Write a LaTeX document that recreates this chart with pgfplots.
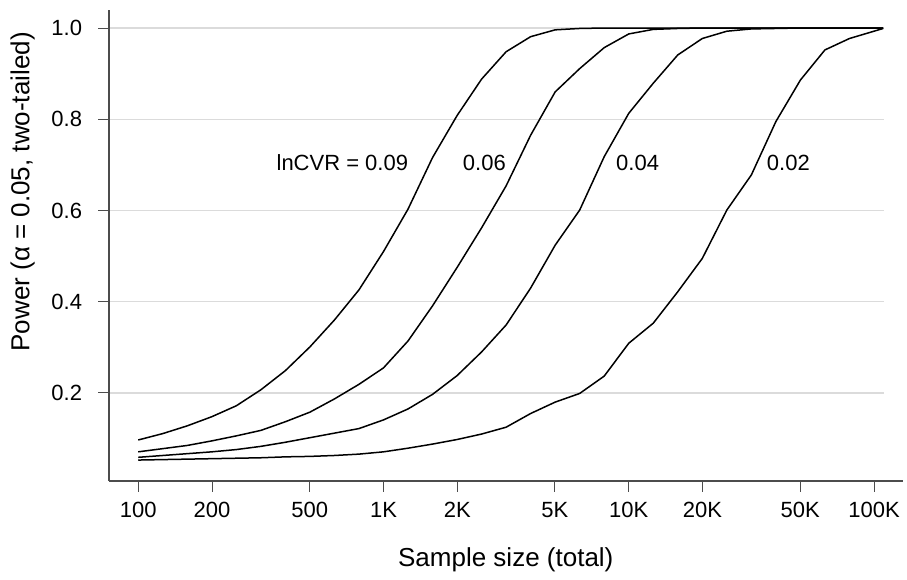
\documentclass[border=0pt]{standalone}
\usepackage{fontspec}
\setmainfont{Liberation Sans}
\usepackage{pgfplots}
\usepackage{pgfplotstable}
\pgfplotsset{compat=1.18}

% power by total sample size, one column per lnCVR
\pgfplotstableread{
N      d09   d06   d04   d02
100    0.097 0.071 0.059 0.053
125.89 0.111 0.078 0.063 0.054
158.49 0.128 0.085 0.067 0.055
199.53 0.148 0.095 0.071 0.056
251.19 0.172 0.106 0.076 0.057
316.23 0.207 0.118 0.083 0.058
398.11 0.249 0.137 0.092 0.060
501.19 0.301 0.158 0.102 0.061
630.96 0.360 0.187 0.112 0.063
794.33 0.426 0.219 0.122 0.066
1000   0.510 0.255 0.141 0.071
1258.9 0.603 0.314 0.165 0.079
1584.9 0.716 0.391 0.197 0.088
1995.3 0.808 0.475 0.238 0.098
2511.9 0.888 0.562 0.290 0.110
3162.3 0.948 0.654 0.349 0.125
3981.1 0.981 0.765 0.430 0.155
5011.9 0.996 0.860 0.524 0.180
6309.6 0.999 0.911 0.601 0.199
7943.3 1.000 0.957 0.718 0.237
10000  1.000 0.987 0.813 0.309
12589  1.000 0.997 0.879 0.353
15849  1.000 0.999 0.941 0.422
19953  1.000 1.000 0.977 0.495
25119  1.000 1.000 0.993 0.601
31623  1.000 1.000 0.998 0.678
39811  1.000 1.000 0.999 0.795
50119  1.000 1.000 1.000 0.886
63096  1.000 1.000 1.000 0.952
79433  1.000 1.000 1.000 0.977
109000 1.000 1.000 1.000 0.999
}\powertab

\begin{document}
\begin{tikzpicture}
\path (-54.5pt,-46pt) rectangle (399pt,240.5pt);
\begin{axis}[
  scale only axis, width=387.5pt, height=235.5pt,
  xmode=log, xmin=76, xmax=109850,
  ymin=0.0071, ymax=1.0395,
  axis x line*=bottom, axis y line*=left,
  axis line style={black!70, line width=0.7pt},
  x axis line style={shorten >=-9.5pt},
  xtick={100,200,500,1000,2000,5000,10000,20000,50000,100000},
  xticklabels={100,200,500,1K,2K,5K,10K,20K,50K,100K},
  minor xtick={},
  ytick={0.2,0.4,0.6,0.8,1.0},
  yticklabels={0.2,0.4,0.6,0.8,1.0},
  tick align=outside, major tick length=5.5pt,
  tick style={black!70, line width=0.5pt},
  tick label style={font=\fontsize{11}{13}\selectfont},
  xticklabel style={yshift=-1.5pt},
  yticklabel style={xshift=-4.5pt},
  ymajorgrids, major grid style={black!14, line width=0.6pt},
  xlabel={Sample size (total)},
  ylabel={Power (α = 0.05, two-tailed)},
  label style={font=\fontsize{13}{15}\selectfont},
  xlabel style={at={(axis description cs:0.512,-0.1826)}, anchor=base},
  ylabel style={at={(axis description cs:-0.1026,0.614)}, anchor=base},
]
\addplot[black, mark=none, line width=0.75pt] table[x=N,y=d09] {\powertab};
\addplot[black, mark=none, line width=0.75pt] table[x=N,y=d06] {\powertab};
\addplot[black, mark=none, line width=0.75pt] table[x=N,y=d04] {\powertab};
\addplot[black, mark=none, line width=0.75pt] table[x=N,y=d02] {\powertab};
\node[anchor=east, font=\fontsize{11}{13}\selectfont] at (axis cs:1346,0.704) {lnCVR = 0.09};
\node[font=\fontsize{11}{13}\selectfont] at (axis cs:2578,0.704) {0.06};
\node[font=\fontsize{11}{13}\selectfont] at (axis cs:10872,0.704) {0.04};
\node[font=\fontsize{11}{13}\selectfont] at (axis cs:44770,0.704) {0.02};
\end{axis}
\end{tikzpicture}
\end{document}
